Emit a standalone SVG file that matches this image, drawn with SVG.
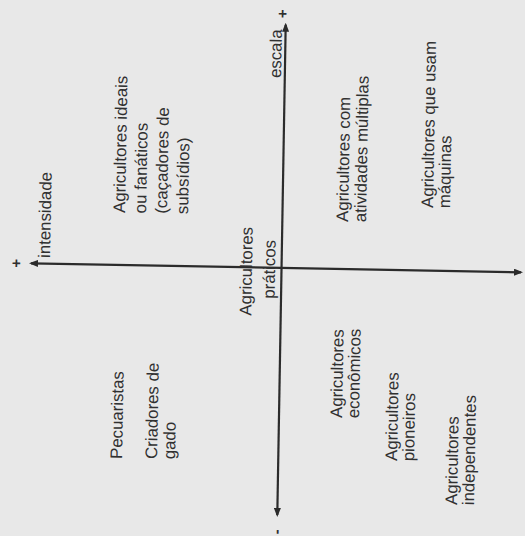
<svg xmlns="http://www.w3.org/2000/svg" width="525" height="536" viewBox="0 0 525 536">
<style>
  .lbl { font-family: "Liberation Sans", Arial, sans-serif; font-size: 16.8px; fill: #303030; }
  .mid { text-anchor: middle; }
  .sign { font-family: "Liberation Sans", Arial, sans-serif; font-size: 15px; font-weight: bold; fill: #303030; text-anchor: middle; }
  .axis { stroke: #2b2b2b; stroke-width: 2.2; fill: none; marker-start: url(#arr); marker-end: url(#arr); }
</style>
<defs>
  <marker id="arr" viewBox="0 0 9 7" refX="7" refY="3.5" markerWidth="9" markerHeight="7" markerUnits="userSpaceOnUse" orient="auto-start-reverse">
    <path d="M0,0 L9,3.5 L0,7 Z" fill="#2b2b2b"/>
  </marker>
</defs>
<rect x="0" y="0" width="525" height="536" fill="#e8e8e8"/>

<g id="connectors">
  <line id="axis-intensidade" class="axis" x1="31" y1="263.3" x2="521" y2="272.3"/>
  <line id="axis-escala" class="axis" x1="277.3" y1="515" x2="285.7" y2="24.7"/>
</g>

<g id="signs">
  <text class="sign" transform="translate(21.3,263.3) rotate(-88.95)">+</text>
  <text class="sign" transform="translate(287.6,14) rotate(-88.95)">+</text>
  <text class="sign" transform="translate(281.5,532) rotate(-88.95)">-</text>
</g>

<g id="label-intensidade">
  <text class="lbl" transform="translate(50,258) rotate(-88.95)">intensidade</text>
</g>
<g id="label-escala">
  <text class="lbl" transform="translate(281,78) rotate(-88.95)">escala</text>
</g>

<g id="node-ideais">
  <text class="lbl" transform="translate(125,213) rotate(-88.95)">
    <tspan x="0" dy="0">Agricultores ideais</tspan>
    <tspan x="0" dy="21">ou fanáticos</tspan>
    <tspan x="0" dy="21">(caçadores de</tspan>
    <tspan x="0" dy="21">subsídios)</tspan>
  </text>
</g>

<g id="node-praticos">
  <text class="lbl mid" transform="translate(252,269) rotate(-88.95)">
    <tspan x="0" dy="0">Agricultores</tspan>
    <tspan x="0" dy="23">práticos</tspan>
  </text>
</g>

<g id="node-atividades">
  <text class="lbl" transform="translate(348,222) rotate(-88.95)">
    <tspan x="0" dy="0">Agricultores com</tspan>
    <tspan x="0" dy="18">atividades múltiplas</tspan>
  </text>
</g>

<g id="node-maquinas">
  <text class="lbl" transform="translate(433,208) rotate(-88.95)">
    <tspan x="0" dy="0">Agricultores que usam</tspan>
    <tspan x="0" dy="17">máquinas</tspan>
  </text>
</g>

<g id="node-pecuaristas">
  <text class="lbl" transform="translate(122,459) rotate(-88.95)">Pecuaristas</text>
</g>

<g id="node-criadores">
  <text class="lbl" transform="translate(157,459) rotate(-88.95)">
    <tspan x="0" dy="0">Criadores de</tspan>
    <tspan x="0" dy="18">gado</tspan>
  </text>
</g>

<g id="node-economicos">
  <text class="lbl" transform="translate(342,418) rotate(-88.95)">
    <tspan x="0" dy="0">Agricultores</tspan>
    <tspan x="0" dy="17">econômicos</tspan>
  </text>
</g>

<g id="node-pioneiros">
  <text class="lbl" transform="translate(397,461) rotate(-88.95)">
    <tspan x="0" dy="0">Agricultores</tspan>
    <tspan x="0" dy="17">pioneiros</tspan>
  </text>
</g>

<g id="node-independentes">
  <text class="lbl" transform="translate(457,505) rotate(-88.95)">
    <tspan x="0" dy="0">Agricultores</tspan>
    <tspan x="0" dy="17">independentes</tspan>
  </text>
</g>
</svg>
